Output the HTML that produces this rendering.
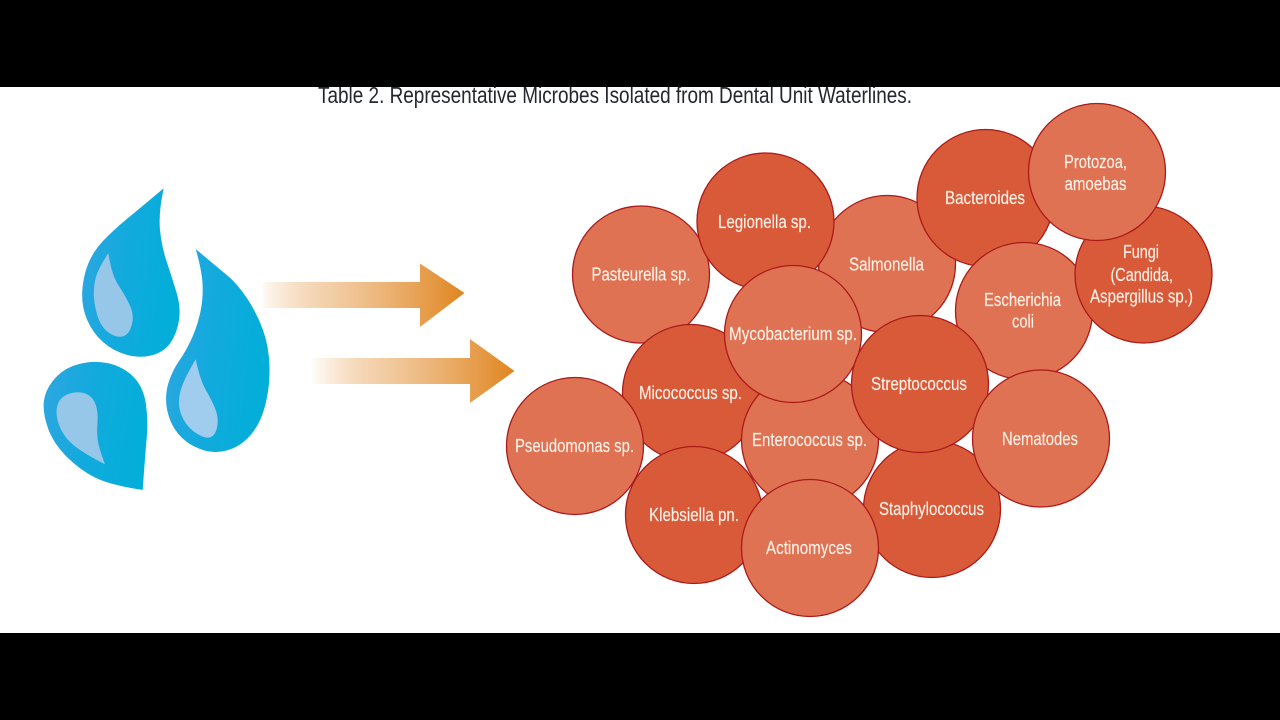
<!DOCTYPE html>
<html>
<head>
<meta charset="utf-8">
<style>
html,body{margin:0;padding:0;background:#fff;width:1280px;height:720px;overflow:hidden}
svg{display:block}
.t{font-family:"Liberation Sans",sans-serif;font-size:18px;fill:#fdf1e8;stroke:#fdf1e8;stroke-width:0.15}
circle{stroke:#ab1a1a;stroke-width:1.3}
.d{fill:#d95a38}
.l{fill:#df7252}
</style>
</head>
<body>
<svg width="1280" height="720" viewBox="0 0 1280 720" xmlns="http://www.w3.org/2000/svg">
<defs>
<linearGradient id="b1" x1="0" y1="0" x2="1" y2="0.2"><stop offset="0" stop-color="#2fa6e0"/><stop offset="0.5" stop-color="#12aadd"/><stop offset="1" stop-color="#03aed9"/></linearGradient>
<linearGradient id="a1" gradientUnits="userSpaceOnUse" x1="263" y1="0" x2="464" y2="0"><stop offset="0" stop-color="#e58a27" stop-opacity="0.05"/><stop offset="0.25" stop-color="#e8a35a" stop-opacity="0.45"/><stop offset="1" stop-color="#e0851f"/></linearGradient>
<linearGradient id="a2" gradientUnits="userSpaceOnUse" x1="312" y1="0" x2="514" y2="0"><stop offset="0" stop-color="#e58a27" stop-opacity="0.02"/><stop offset="0.25" stop-color="#e8a35a" stop-opacity="0.45"/><stop offset="1" stop-color="#e0851f"/></linearGradient>
</defs>
<rect width="1280" height="720" fill="#fff"/>

<text x="318" y="103" font-family="'Liberation Sans',sans-serif" font-size="23" fill="#23272f" textLength="594" lengthAdjust="spacingAndGlyphs">Table 2. Representative Microbes Isolated from Dental Unit Waterlines.</text>
<rect x="0" y="0" width="1280" height="87" fill="#000"/>
<rect x="0" y="633" width="1280" height="87" fill="#000"/>

<!-- drops -->
<path d="M163.7,188.3 Q158.3,213.3 160,230 Q161.7,246.7 166.7,261.7 Q171.7,276.7 176.3,291.7 Q181,306.7 179,320 Q177,333.3 170.5,342.7 Q164,352 152,355.2 Q140,358.5 126.5,354.7 Q113,351 103,342 Q93,333.3 87.2,320 Q81.5,306.7 82.2,291.7 Q83,276.7 88,264.2 Q93,251.7 103.2,240.8 Q113.3,230 126.6,219.2 Q140,208.3 163.7,188.3Z" fill="url(#b1)"/>
<path d="M108.3,253.3 Q111.7,275 118.3,285 Q125,295 129.7,305 Q134.3,315 132,324 Q130,333.3 124,336 Q118.3,338.3 110.8,334 Q103.3,330 99,320 Q95,310 94,298 Q93.3,286.7 95.8,277.5 Q98.3,268.3 108.3,253.3Z" fill="#96c7e9"/>
<path d="M195.7,249 Q201.7,270 202.5,283.3 Q203.3,296.7 200.8,310 Q198.3,323.3 192.5,336.7 Q186.7,350 179.2,360.8 Q171.7,371.7 168.1,384.2 Q164.5,396.7 167.2,410.3 Q170,424 178.3,434 Q186.7,444 200,449 Q213.3,454 226.6,450.5 Q240,447 250.2,435.5 Q260.5,424 265.2,405.3 Q270,386.7 269.5,366.7 Q269,346.7 263,330 Q257,313.3 247,298.3 Q237,283.3 226.8,275 Q216.7,266.7 195.7,249Z" fill="url(#b1)"/>
<path d="M195.7,359.3 Q200,380 205.8,390 Q211.7,400 215.3,409 Q219,418.3 217,427.5 Q215,436.7 209,437.5 Q203.3,438.3 194,431.7 Q185,425 181,414 Q177.3,403.3 180.3,391.7 Q183.3,380 195.7,359.3Z" fill="#a0cdee"/>
<path d="M142.7,490 Q145,456.7 146.7,438.3 Q148.3,420 145.8,403.3 Q143.3,386.7 133.3,376.7 Q123.3,366.7 108.3,363.3 Q93.3,360 78.3,364.2 Q63.3,368.3 54.2,379.2 Q45,390 43.8,401.7 Q42.7,413.3 48,428.3 Q53.3,443.3 66.7,456.7 Q80,470 95,477.5 Q110,485 142.7,490Z" fill="url(#b1)"/>
<path d="M105,464.3 Q98.3,446.7 97.5,438.3 Q96.7,430 97.5,421.7 Q98.3,413.3 95.8,405 Q93.3,396.7 85.8,393.7 Q78.3,390.7 69,393.7 Q60,396.7 57.5,405 Q55,413.3 59,425 Q63.3,436.7 73.3,445 Q83.3,453.3 105,464.3Z" fill="#96c7e9"/>

<!-- arrows -->
<path d="M263,282 H420 V263.5 L464.5,293 L420,327 V308 H263Z" fill="url(#a1)"/>
<path d="M312,358 H470 V339 L514.5,371 L470,403 V384 H312Z" fill="url(#a2)"/>

<!-- circles -->
<circle class="l" cx="641" cy="274.5" r="68.5"/>
<circle class="l" cx="887" cy="264" r="68.5"/>
<circle class="d" cx="765.5" cy="221.5" r="68.5"/>
<circle class="d" cx="985.5" cy="198" r="68.5"/>
<circle class="d" cx="691" cy="393" r="68.5"/>
<circle class="l" cx="575" cy="446" r="68.5"/>
<circle class="l" cx="810" cy="440" r="68.5"/>
<circle class="d" cx="694" cy="515" r="68.5"/>
<circle class="d" cx="932" cy="509" r="68.5"/>
<circle class="l" cx="793" cy="334" r="68.5"/>
<circle class="l" cx="1024" cy="311" r="68.5"/>
<circle class="d" cx="1143.5" cy="274.5" r="68.5"/>
<circle class="l" cx="1097" cy="172" r="68.5"/>
<circle class="d" cx="920" cy="384" r="68.5"/>
<circle class="l" cx="1041" cy="438.5" r="68.5"/>
<circle class="l" cx="810" cy="548" r="68.5"/>

<!-- labels -->
<text class="t" x="591.5" y="280.5" textLength="99" lengthAdjust="spacingAndGlyphs">Pasteurella sp.</text>
<text class="t" x="718" y="228" textLength="93" lengthAdjust="spacingAndGlyphs">Legionella sp.</text>
<text class="t" x="849" y="270.5" textLength="75" lengthAdjust="spacingAndGlyphs">Salmonella</text>
<text class="t" x="945" y="204" textLength="80" lengthAdjust="spacingAndGlyphs">Bacteroides</text>
<text class="t" x="1064" y="168" textLength="63" lengthAdjust="spacingAndGlyphs">Protozoa,</text>
<text class="t" x="1064.5" y="190" textLength="62" lengthAdjust="spacingAndGlyphs">amoebas</text>
<text class="t" x="1123" y="258" textLength="36" lengthAdjust="spacingAndGlyphs">Fungi</text>
<text class="t" x="1110.5" y="281" textLength="62.5" lengthAdjust="spacingAndGlyphs">(Candida,</text>
<text class="t" x="1090" y="302.5" textLength="103" lengthAdjust="spacingAndGlyphs">Aspergillus sp.)</text>
<text class="t" x="984" y="306" textLength="77" lengthAdjust="spacingAndGlyphs">Escherichia</text>
<text class="t" x="1012" y="327.5" textLength="22" lengthAdjust="spacingAndGlyphs">coli</text>
<text class="t" x="729" y="340" textLength="128" lengthAdjust="spacingAndGlyphs">Mycobacterium sp.</text>
<text class="t" x="639" y="399" textLength="103" lengthAdjust="spacingAndGlyphs">Micococcus sp.</text>
<text class="t" x="871" y="390" textLength="96" lengthAdjust="spacingAndGlyphs">Streptococcus</text>
<text class="t" x="1002" y="445" textLength="76" lengthAdjust="spacingAndGlyphs">Nematodes</text>
<text class="t" x="752" y="446" textLength="115" lengthAdjust="spacingAndGlyphs">Enterococcus sp.</text>
<text class="t" x="515" y="452" textLength="119" lengthAdjust="spacingAndGlyphs">Pseudomonas sp.</text>
<text class="t" x="649" y="521" textLength="90" lengthAdjust="spacingAndGlyphs">Klebsiella pn.</text>
<text class="t" x="879" y="515" textLength="105" lengthAdjust="spacingAndGlyphs">Staphylococcus</text>
<text class="t" x="766" y="554" textLength="86" lengthAdjust="spacingAndGlyphs">Actinomyces</text>
</svg>
</body>
</html>
